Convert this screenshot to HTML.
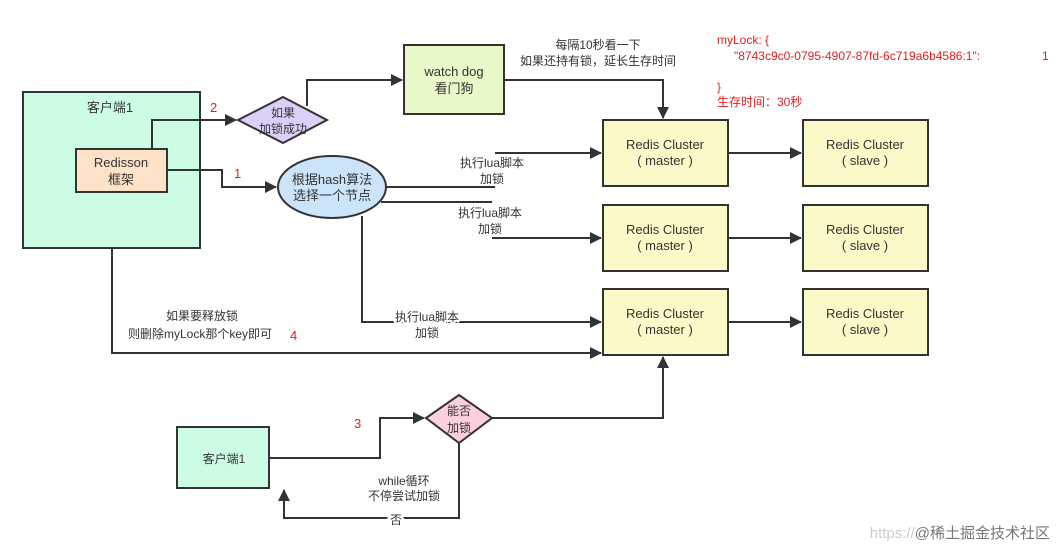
<!DOCTYPE html>
<html><head><meta charset="utf-8"><style>
html,body{margin:0;padding:0;background:#fff;}
svg{display:block;font-family:"Liberation Sans","Noto Sans CJK SC",sans-serif;}
</style></head><body>
<svg width="1058" height="550" viewBox="0 0 1058 550" xmlns="http://www.w3.org/2000/svg">
<defs><marker id="a" markerWidth="12" markerHeight="12" refX="11" refY="6" orient="auto" markerUnits="userSpaceOnUse"><path d="M0,0 L12,6 L0,12 z" fill="#333"/></marker></defs>
<g stroke="#333" stroke-width="2" fill="none">
<rect x="23" y="92" width="177" height="156" fill="#ccfce4"/>
<rect x="76" y="149" width="91" height="43" fill="#fde2c8"/>
<polygon points="238,120 283,97 327,120 283,143" fill="#ddd0f8"/>
<rect x="404" y="45" width="100" height="69" fill="#e8f8c8"/>
<ellipse cx="332" cy="187" rx="54" ry="31" fill="#cce4fa"/>
<rect x="603" y="120" width="125" height="66" fill="#fafac8"/>
<rect x="603" y="205" width="125" height="66" fill="#fafac8"/>
<rect x="603" y="289" width="125" height="66" fill="#fafac8"/>
<rect x="803" y="120" width="125" height="66" fill="#fafac8"/>
<rect x="803" y="205" width="125" height="66" fill="#fafac8"/>
<rect x="803" y="289" width="125" height="66" fill="#fafac8"/>
<rect x="177" y="427" width="92" height="61" fill="#ccfce4"/>
<polygon points="426,418 459,395 492,418 459,443" fill="#fbd0dc"/>
<polyline points="152,149 152,120 236,120" marker-end="url(#a)"/>
<polyline points="307,106 307,80 402,80" marker-end="url(#a)"/>
<polyline points="504,80 663,80 663,118" marker-end="url(#a)"/>
<polyline points="167,170 222,170 222,187 276,187" marker-end="url(#a)"/>
<polyline points="386,187 495,187"/>
<polyline points="495,153 601,153" marker-end="url(#a)"/>
<polyline points="381,202 492,202"/>
<polyline points="492,238 601,238" marker-end="url(#a)"/>
<polyline points="362,216 362,322 601,322" marker-end="url(#a)"/>
<polyline points="112,248 112,353 601,353" marker-end="url(#a)"/>
<polyline points="728,153 801,153" marker-end="url(#a)"/>
<polyline points="728,238 801,238" marker-end="url(#a)"/>
<polyline points="728,322 801,322" marker-end="url(#a)"/>
<polyline points="269,458 380,458 380,418 424,418" marker-end="url(#a)"/>
<polyline points="492,418 663,418 663,357" marker-end="url(#a)"/>
<polyline points="459,443 459,518 284,518 284,490" marker-end="url(#a)"/>
</g>
<g font-size="13" fill="#333" text-anchor="middle">
<text x="110" y="112">客户端1</text>
<text x="121" y="167">Redisson</text><text x="121" y="184">框架</text>
<text x="283" y="117" font-size="12">如果</text><text x="283" y="133" font-size="12">加锁成功</text>
<text x="454" y="76">watch dog</text><text x="454" y="93">看门狗</text>
<text x="332" y="184">根据hash算法</text><text x="332" y="200">选择一个节点</text>
<text x="598" y="49" font-size="12">每隔10秒看一下</text>
<text x="598" y="65" font-size="12">如果还持有锁，延长生存时间</text>
<text x="665" y="149">Redis Cluster</text><text x="665" y="165">( master )</text>
<text x="665" y="234">Redis Cluster</text><text x="665" y="250">( master )</text>
<text x="665" y="318">Redis Cluster</text><text x="665" y="334">( master )</text>
<text x="865" y="149">Redis Cluster</text><text x="865" y="165">( slave )</text>
<text x="865" y="234">Redis Cluster</text><text x="865" y="250">( slave )</text>
<text x="865" y="318">Redis Cluster</text><text x="865" y="334">( slave )</text>
<text x="492" y="167" font-size="12" style="paint-order:stroke" stroke="#fff" stroke-width="3">执行lua脚本</text><text x="492" y="183" font-size="12">加锁</text>
<text x="490" y="217" font-size="12" style="paint-order:stroke" stroke="#fff" stroke-width="3">执行lua脚本</text><text x="490" y="233" font-size="12">加锁</text>
<text x="427" y="321" font-size="12" style="paint-order:stroke" stroke="#fff" stroke-width="4">执行lua脚本</text><text x="427" y="337" font-size="12">加锁</text>
<text x="202" y="320" font-size="12">如果要释放锁</text>
<text x="200" y="338" font-size="12">则删除myLock那个key即可</text>
<text x="224" y="463" font-size="12">客户端1</text>
<text x="459" y="415" font-size="12">能否</text><text x="459" y="432" font-size="12">加锁</text>
<text x="404" y="485" font-size="12">while循环</text>
<text x="404" y="500" font-size="12">不停尝试加锁</text>
<text x="396" y="524" font-size="12" style="paint-order:stroke" stroke="#fff" stroke-width="4">否</text>
</g>
<g fill="#e02020" font-size="13">
<text x="210" y="112">2</text>
<text x="234" y="178">1</text>
<text x="290" y="340">4</text>
<text x="354" y="428">3</text>
<text x="717" y="44" font-size="12">myLock: {</text>
<text x="734" y="60" font-size="12">"8743c9c0-0795-4907-87fd-6c719a6b4586:1":</text>
<text x="1042" y="60" font-size="12">1</text>
<text x="717" y="91" font-size="12">}</text>
<text x="717" y="106" font-size="12">生存时间：30秒</text>
</g>
<text x="1050" y="538" text-anchor="end" font-size="15" fill="#ccc">https://<tspan fill="#777">@稀土掘金技术社区</tspan></text>
</svg>
</body></html>
